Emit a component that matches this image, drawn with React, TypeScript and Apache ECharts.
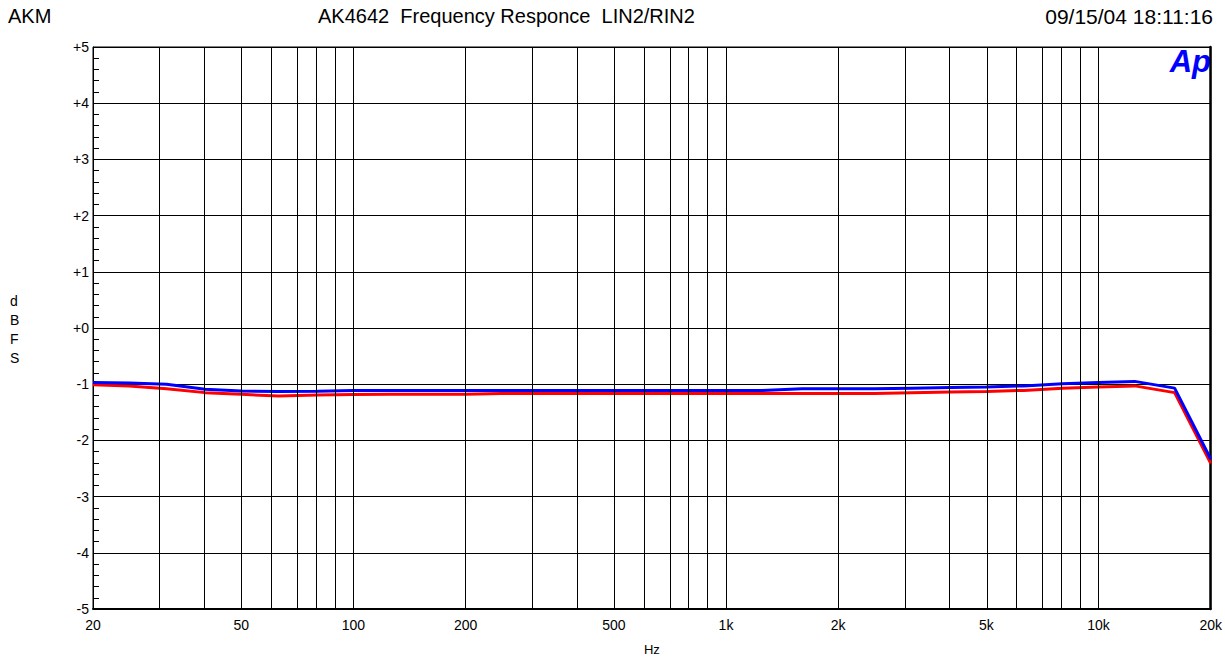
import React, { useEffect, useRef } from "react";
import * as echarts from "echarts";

const freqs = [20, 25, 31.5, 40, 50, 63, 80, 100, 125, 160, 200, 250, 315, 400, 500, 630, 800, 1000, 1250, 1600, 2000, 2500, 3150, 4000, 5000, 6300, 8000, 10000, 12500, 16000, 20000];
const blueDb = [-0.97, -0.98, -1.0, -1.09, -1.12, -1.13, -1.125, -1.11, -1.11, -1.11, -1.11, -1.11, -1.11, -1.11, -1.11, -1.11, -1.11, -1.11, -1.11, -1.08, -1.08, -1.08, -1.07, -1.06, -1.05, -1.03, -0.99, -0.97, -0.95, -1.07, -2.33];
const redDb = [-1.01, -1.03, -1.08, -1.15, -1.18, -1.21, -1.19, -1.185, -1.18, -1.18, -1.18, -1.165, -1.165, -1.165, -1.165, -1.165, -1.165, -1.165, -1.165, -1.165, -1.165, -1.165, -1.15, -1.14, -1.13, -1.11, -1.07, -1.05, -1.03, -1.15, -2.41];
const gridFreqs = [30, 40, 50, 60, 70, 80, 90, 100, 200, 300, 400, 500, 600, 700, 800, 900, 1000, 2000, 3000, 4000, 5000, 6000, 7000, 8000, 9000, 10000];
const labelFreqs = [20, 50, 100, 200, 500, 1000, 2000, 5000, 10000, 20000];
const titleLeft = "AKM";
const titleMain = "AK4642  Frequency Responce  LIN2/RIN2";
const titleDate = "09/15/04 18:11:16";

const FONT = "'Liberation Sans', Arial, sans-serif";

function fmtHz(v: number): string {
  const f = Math.round(Math.pow(10, v));
  return f >= 1000 ? f / 1000 + "k" : String(f);
}

export default function App() {
  const ref = useRef<HTMLDivElement>(null);
  useEffect(() => {
    if (!ref.current) return;
    const chart = echarts.init(ref.current, null, { renderer: "svg" });
    const toPts = (arr: number[]) => freqs.map((f, i) => [Math.log10(f), arr[i]]);
    chart.setOption({
      animation: false,
      backgroundColor: "#fff",
      textStyle: { fontFamily: FONT },
      grid: { left: 93, right: 12, top: 47, bottom: 45, show: true, borderColor: "#000", borderWidth: 1 },
      xAxis: {
        type: "value",
        min: Math.log10(20),
        max: Math.log10(20000),
        name: "Hz",
        nameLocation: "middle",
        nameGap: 34,
        nameTextStyle: { color: "#000", fontSize: 13, fontFamily: FONT },
        axisLine: { show: true, onZero: false, lineStyle: { color: "#000", width: 2 } },
        axisTick: { show: false },
        splitLine: { show: false },
        axisLabel: {
          customValues: labelFreqs.map((f) => Math.log10(f)),
          formatter: (v: number) => fmtHz(v),
          color: "#000",
          fontSize: 14,
          margin: 9,
          fontFamily: FONT,
          showMinLabel: true,
          showMaxLabel: true,
        },
      },
      yAxis: [
        {
          type: "value",
          min: -5,
          max: 5,
          interval: 1,
          axisLine: { show: true, lineStyle: { color: "#000", width: 1 } },
          axisTick: { show: true, inside: true, length: 6, lineStyle: { color: "#000" } },
          minorTick: { show: true, splitNumber: 5, length: 6, lineStyle: { color: "#000" } },
          splitLine: { show: true, lineStyle: { color: "#000", width: 1 } },
          axisLabel: {
            formatter: (v: number) => (v >= 0 ? "+" + v : String(v)),
            color: "#000",
            fontSize: 14,
            margin: 4,
            fontFamily: FONT,
          },
        },
        {
          type: "value",
          position: "right",
          min: -5,
          max: 5,
          interval: 1,
          axisLine: { show: true, lineStyle: { color: "#000", width: 2.5 } },
          axisTick: { show: false },
          splitLine: { show: false },
          axisLabel: { show: false },
        },
      ],
      graphic: [
        { type: "text", left: 8, top: 6, style: { text: titleLeft, font: `20px ${FONT}`, fill: "#000" } },
        { type: "text", left: 318, top: 6, style: { text: titleMain, font: `20px ${FONT}`, fill: "#000" } },
        { type: "text", right: 12, top: 6, style: { text: titleDate, font: `21px ${FONT}`, fill: "#000" } },
        {
          type: "text",
          left: 10,
          top: 291,
          style: { text: "d\nB\nF\nS", font: `14px ${FONT}`, fill: "#000", lineHeight: 19, align: "center" },
        },
        {
          type: "text",
          right: 14,
          top: 46,
          style: { text: "Ap", font: `italic 900 31px ${FONT}`, fill: "#0000ff" },
        },
      ],
      series: [
        {
          type: "line",
          data: [],
          silent: true,
          z: 1,
          markLine: {
            silent: true,
            symbol: "none",
            label: { show: false },
            lineStyle: { color: "#000", width: 1, type: "solid" },
            data: gridFreqs.map((f) => ({ xAxis: Math.log10(f) })),
          },
        },
        {
          type: "line",
          data: toPts(redDb),
          showSymbol: false,
          symbol: "none",
          z: 3,
          lineStyle: { color: "#ff0000", width: 3 },
        },
        {
          type: "line",
          data: toPts(blueDb),
          showSymbol: false,
          symbol: "none",
          z: 4,
          lineStyle: { color: "#0000ff", width: 3 },
        },
      ],
    });
    return () => chart.dispose();
  }, []);
  return <div ref={ref} style={{ position: "fixed", left: 0, top: 0, width: 1225, height: 661 }} />;
}
